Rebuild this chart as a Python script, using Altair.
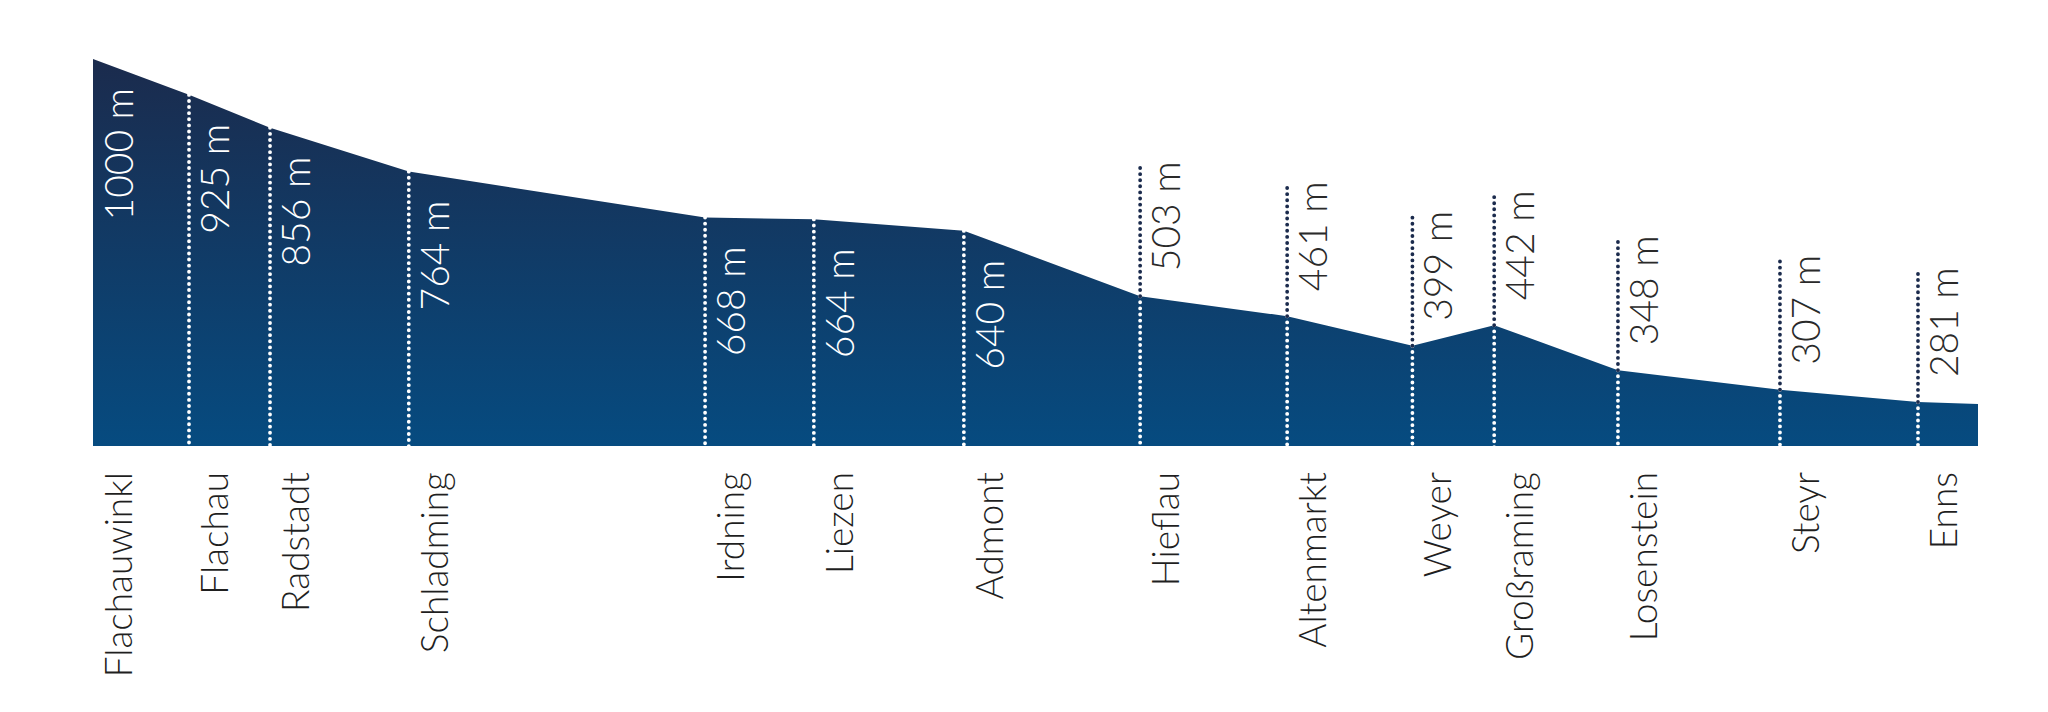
import altair as alt
import pandas as pd

# Stations along the Enns river
STATIONS = ["Flachauwinkl", "Flachau", "Radstadt", "Schladming", "Irdning", "Liezen",
            "Admont", "Hieflau", "Altenmarkt", "Weyer", "Großraming", "Losenstein",
            "Steyr", "Enns"]
# distance along the course (km)
KM = [0, 12.8, 23.6, 42.1, 81.6, 96.1, 116.1, 139.6, 159.2, 175.9, 186.8, 203.3, 224.9, 243.3]
# elevation (m)
ELEV = [1000, 925, 856, 764, 668, 664, 640, 503, 461, 399, 442, 348, 307, 281]
# end of the profile (unlabelled)
END_KM = 251.3
END_ELEV = 277
# elevation range of the drawing
BASE_ELEV = 189
TOP_ELEV = 1000

stations = pd.DataFrame({"name": STATIONS, "km": KM, "elev": ELEV})
stations["label"] = stations["elev"].astype(str) + " m"
profile = pd.DataFrame({"km": KM + [END_KM], "elev": ELEV + [END_ELEV]})

NAVY = "#1b2b4d"
BLUE = "#064b80"
FONT = "Lato"

x = alt.X("km:Q", scale=alt.Scale(domain=[0, END_KM], nice=False, zero=False), axis=None)
y = alt.Y("elev:Q", scale=alt.Scale(domain=[BASE_ELEV, TOP_ELEV], nice=False, zero=False), axis=None)

area = alt.Chart(profile).mark_area(
    interpolate="linear",
    color=alt.Gradient(
        gradient="linear",
        stops=[alt.GradientStop(color=NAVY, offset=0), alt.GradientStop(color=BLUE, offset=1)],
        x1=0, x2=0, y1=0, y2=1,
    ),
).encode(x=x, y=y, y2=alt.datum(BASE_ELEV))

dots = dict(strokeWidth=3.8, strokeDash=[0.1, 6.0], strokeCap="round")

white_rules = alt.Chart(stations).transform_filter("datum.km > 0").mark_rule(
    color="white", y2Offset=2, **dots
).encode(x=x, y=y, y2=alt.datum(BASE_ELEV))

dark_rules = alt.Chart(stations).transform_filter("datum.elev < 600").mark_rule(
    color=NAVY, y2Offset=-132, **dots
).encode(x=x, y=y, y2="elev:Q")

inside_labels = alt.Chart(stations).transform_filter("datum.elev >= 600").mark_text(
    angle=270, align="right", baseline="middle", dx=-29, dy=28,
    font=FONT, fontSize=39, fontWeight=300, color="white"
).encode(x=x, y=y, text="label:N")

outside_labels = alt.Chart(stations).transform_filter("datum.elev < 600").mark_text(
    angle=270, align="left", baseline="middle", dx=25, dy=28,
    font=FONT, fontSize=39, fontWeight=300, color="#2a2a2a"
).encode(x=x, y=y, text="label:N")

name_labels = alt.Chart(stations).mark_text(
    angle=270, align="right", baseline="middle", dx=-26, dy=28,
    font=FONT, fontSize=37, fontWeight=300, color="#1f1f1f"
).encode(x=x, y=alt.datum(BASE_ELEV), text="name:N")

chart = alt.layer(
    area, white_rules, dark_rules, inside_labels, outside_labels, name_labels
).properties(
    width=1885, height=387,
    padding={"left": 85, "top": 51, "right": 20, "bottom": 236},
    autosize="none",
).configure_view(stroke=None)

chart.save("out.html", embed_options={"renderer": "svg", "actions": False})
